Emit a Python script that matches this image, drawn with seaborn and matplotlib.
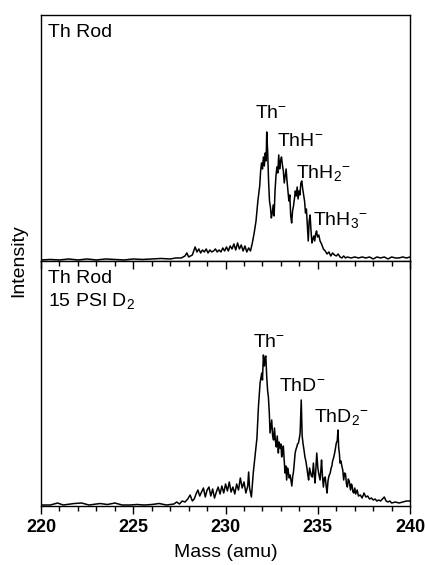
import numpy as np
import pandas as pd
import matplotlib
matplotlib.use("Agg")
import matplotlib.pyplot as plt
import seaborn as sns

# ---------------- data ----------------
top_mass = [220.0, 220.5, 221.0, 221.5, 222.0, 222.5, 223.0, 223.5, 224.0, 224.5, 225.0, 225.5,
            226.0, 226.5, 227.0, 227.3, 227.6, 227.8, 227.9, 228.0, 228.2, 228.35, 228.45, 228.55,
            228.65, 228.75, 228.85, 228.95, 229.05, 229.15, 229.25, 229.35, 229.45, 229.55, 229.65,
            229.75, 229.85, 229.95, 230.05, 230.15, 230.25, 230.35, 230.45, 230.55, 230.65, 230.75,
            230.85, 230.95, 231.05, 231.15, 231.25, 231.35, 231.45, 231.55, 231.65, 231.75, 231.85,
            231.9, 231.95, 232.0, 232.05, 232.1, 232.15, 232.2, 232.23, 232.28, 232.33, 232.38,
            232.43, 232.48, 232.53, 232.58, 232.63, 232.68, 232.73, 232.78, 232.83, 232.88, 232.93,
            232.98, 233.03, 233.08, 233.13, 233.18, 233.23, 233.28, 233.33, 233.38, 233.43, 233.48,
            233.53, 233.58, 233.63, 233.68, 233.73, 233.78, 233.83, 233.88, 233.93, 233.98, 234.03,
            234.08, 234.13, 234.18, 234.23, 234.28, 234.33, 234.38, 234.43, 234.48, 234.53, 234.58,
            234.63, 234.68, 234.73, 234.78, 234.83, 234.88, 234.93, 234.98, 235.05, 235.12, 235.2,
            235.3, 235.4, 235.5, 235.6, 235.7, 235.8, 235.9, 236.0, 236.1, 236.2, 236.3, 236.4,
            236.5, 236.6, 236.8, 237.0, 237.2, 237.4, 237.6, 237.8, 238.0, 238.2, 238.4, 238.6,
            238.8, 239.0, 239.2, 239.4, 239.6, 239.8, 240.0]
top_intensity = [1, 1.5, 1, 2, 1, 2, 1, 2, 1.5, 1, 2, 1.5,
                 2, 2.5, 2, 3, 3, 5, 8, 4, 6, 14, 9, 12,
                 8, 11, 9, 12, 8, 11, 9, 10, 12, 9, 11,
                 9, 13, 10, 14, 10, 15, 12, 17, 11, 18, 12,
                 16, 10, 15, 9, 13, 10, 18, 28, 40, 60, 75,
                 90, 98, 92, 104, 95, 108, 100, 129, 110, 80, 60,
                 54, 43, 48, 56, 45, 70, 85, 94, 88, 106, 92,
                 100, 104, 96, 90, 78, 85, 92, 80, 70, 60, 66,
                 45, 38, 50, 55, 62, 70, 65, 74, 62, 70, 66,
                 78, 80, 72, 66, 60, 48, 52, 35, 20, 40, 46,
                 30, 18, 22, 25, 20, 27, 30, 24, 26, 20, 17,
                 12, 10, 7, 9, 5, 8, 6, 5, 7, 4, 3, 5,
                 3, 4, 3, 4, 3, 4, 3, 4, 2, 4, 3, 4,
                 2, 4, 3, 3, 4, 3, 4]

bot_mass = [220.0, 220.5, 220.9, 221.2, 221.8, 222.2, 222.6, 223.2, 223.6, 224.0, 224.4, 224.8,
            225.2, 225.6, 226.0, 226.4, 226.8, 227.2, 227.35, 227.5, 227.65, 227.8, 227.95, 228.08,
            228.2, 228.3, 228.4, 228.5, 228.6, 228.7, 228.8, 228.9, 229.0, 229.1, 229.2, 229.3,
            229.4, 229.5, 229.6, 229.7, 229.8, 229.9, 230.0, 230.1, 230.2, 230.3, 230.4, 230.5,
            230.6, 230.7, 230.8, 230.9, 231.0, 231.1, 231.2, 231.25, 231.3, 231.4, 231.5, 231.6,
            231.7, 231.78, 231.87, 231.96, 232.0, 232.05, 232.1, 232.14, 232.18, 232.23, 232.28,
            232.32, 232.37, 232.41, 232.46, 232.5, 232.55, 232.6, 232.65, 232.7, 232.75, 232.8,
            232.86, 232.9, 232.95, 233.0, 233.04, 233.08, 233.13, 233.18, 233.22, 233.27, 233.31,
            233.36, 233.4, 233.45, 233.5, 233.55, 233.59, 233.64, 233.68, 233.73, 233.77, 233.82,
            233.86, 233.9, 233.95, 234.0, 234.04, 234.1, 234.15, 234.2, 234.25, 234.3, 234.35,
            234.4, 234.45, 234.5, 234.55, 234.6, 234.65, 234.7, 234.76, 234.8, 234.85, 234.9,
            234.94, 235.0, 235.05, 235.12, 235.16, 235.2, 235.25, 235.3, 235.35, 235.4, 235.45,
            235.5, 235.55, 235.6, 235.67, 235.72, 235.76, 235.8, 235.85, 235.9, 235.94, 236.0,
            236.05, 236.09, 236.13, 236.17, 236.2, 236.25, 236.3, 236.35, 236.4, 236.45, 236.5,
            236.55, 236.6, 236.65, 236.7, 236.77, 236.82, 236.86, 236.9, 236.95, 237.0, 237.05,
            237.13, 237.2, 237.3, 237.4, 237.5, 237.6, 237.7, 237.8, 237.9, 238.0, 238.1, 238.2,
            238.3, 238.4, 238.5, 238.6, 238.7, 238.8, 238.9, 239.0, 239.2, 239.4, 239.6, 239.8,
            240.0]
bot_intensity = [1, 1, 3, 1, 2.5, 3, 1, 2.5, 1.5, 3, 1, 1,
                 1.5, 1, 1.5, 2.5, 1, 2, 4, 2, 5, 4, 7, 11,
                 5, 7, 12, 16, 10, 14, 18, 9, 16, 19, 10, 17,
                 8, 14, 19, 12, 20, 13, 22, 15, 24, 14, 19, 12,
                 22, 16, 28, 18, 24, 13, 20, 34, 18, 9, 33, 50,
                 68, 99, 123, 133, 126, 151, 140, 148, 150, 129, 115,
                 109, 93, 73, 80, 86, 70, 66, 78, 65, 59, 70,
                 53, 64, 58, 62, 49, 55, 60, 45, 33, 40, 26,
                 38, 34, 28, 31, 25, 20, 30, 34, 45, 53, 57,
                 59, 62, 63, 68, 73, 106, 70, 62, 56, 49, 45,
                 39, 32, 26, 38, 34, 30, 29, 43, 32, 23, 40,
                 53, 38, 32, 26, 35, 46, 30, 19, 28, 29, 20,
                 13, 25, 30, 33, 38, 40, 45, 48, 52, 56, 63,
                 65, 76, 58, 52, 43, 45, 40, 36, 26, 33, 32,
                 22, 19, 27, 25, 16, 22, 20, 14, 13, 18, 12,
                 16, 10, 11, 8, 13, 9, 10, 7, 8, 6, 7, 5,
                 6, 5, 7, 9, 5, 4, 5, 3, 4, 3, 4, 5,
                 5]

top_labels = [r"Th$^{-}$", r"ThH$^{-}$", r"ThH$_{2}$$^{-}$", r"ThH$_{3}$$^{-}$"]
top_label_pos = [(231.6, 147), (232.77, 119), (233.82, 88), (234.73, 41)]
bot_labels = [r"Th$^{-}$", r"ThD$^{-}$", r"ThD$_{2}$$^{-}$"]
bot_label_pos = [(231.49, 163), (232.9, 119), (234.8, 89)]
panel_titles = ["Th Rod", "Th Rod\n15 PSI D$_{2}$"]
x_ticks = [220, 225, 230, 235, 240]

# ---------------- style ----------------
sns.set_style("ticks")
plt.rcParams["font.family"] = ["Liberation Sans", "DejaVu Sans"]
plt.rcParams["mathtext.fontset"] = "custom"
plt.rcParams["mathtext.rm"] = "Liberation Sans"
plt.rcParams["mathtext.it"] = "Liberation Sans:italic"
plt.rcParams["mathtext.bf"] = "Liberation Sans:bold"
plt.rcParams["text.color"] = "black"
plt.rcParams["axes.labelcolor"] = "black"
plt.rcParams["xtick.color"] = "black"
plt.rcParams["ytick.color"] = "black"

fig = plt.figure(figsize=(4.25, 5.65), dpi=100)
ax_top = fig.add_axes([0.0965, 0.5381, 0.8685, 0.4354])
ax_bot = fig.add_axes([0.0965, 0.1044, 0.8685, 0.4337], sharex=ax_top)

df_top = pd.DataFrame({"mass": top_mass, "intensity": top_intensity})
df_bot = pd.DataFrame({"mass": bot_mass, "intensity": bot_intensity})

sns.lineplot(data=df_top, x="mass", y="intensity", ax=ax_top, color="black", lw=1.1,
             estimator=None, sort=False)
sns.lineplot(data=df_bot, x="mass", y="intensity", ax=ax_bot, color="black", lw=1.1,
             estimator=None, sort=False)

ax_top.set_xlim(220, 240)
ax_top.set_ylim(0, 246)
ax_bot.set_ylim(0, 245)

for ax in (ax_top, ax_bot):
    for s in ax.spines.values():
        s.set_visible(True)
        s.set_linewidth(1.0)
        s.set_color("black")
    ax.set_yticks([])
    ax.set_ylabel("")
    ax.set_xlabel("")

ax_top.tick_params(axis="x", which="both", bottom=False, labelbottom=False)

ax_bot.set_xticks(x_ticks)
ax_bot.set_xticks(np.arange(220, 241, 1), minor=True)
ax_bot.tick_params(axis="x", which="major", direction="out", length=6, width=1,
                   bottom=True, top=False, labelsize=13, pad=3)
ax_bot.tick_params(axis="x", which="minor", direction="out", length=3.5, width=1,
                   bottom=True, top=False)
for lab in ax_bot.get_xticklabels():
    lab.set_fontweight("bold")

sec = ax_bot.secondary_xaxis("top")
sec.set_xticks(x_ticks)
sec.set_xticks(np.arange(220, 241, 1), minor=True)
sec.tick_params(axis="x", which="major", direction="in", length=6, width=1, labeltop=False)
sec.tick_params(axis="x", which="minor", direction="in", length=3.5, width=1)
sec.spines["top"].set_visible(False)

ax_bot.set_xlabel("Mass (amu)", fontsize=14, labelpad=6)
fig.text(0.045, 0.538, "Intensity", rotation=90, fontsize=14, va="center", ha="center")

ax_top.text(0.02, 0.965, panel_titles[0], transform=ax_top.transAxes, fontsize=14,
            ha="left", va="top")
ax_bot.text(0.02, 0.965, panel_titles[1], transform=ax_bot.transAxes, fontsize=14,
            ha="left", va="top", linespacing=1.3)

for t, (x, y) in zip(top_labels, top_label_pos):
    ax_top.text(x, y, t, fontsize=14, ha="left", va="center")
for t, (x, y) in zip(bot_labels, bot_label_pos):
    ax_bot.text(x, y, t, fontsize=14, ha="left", va="center")

fig.savefig("out.png", dpi=100)
